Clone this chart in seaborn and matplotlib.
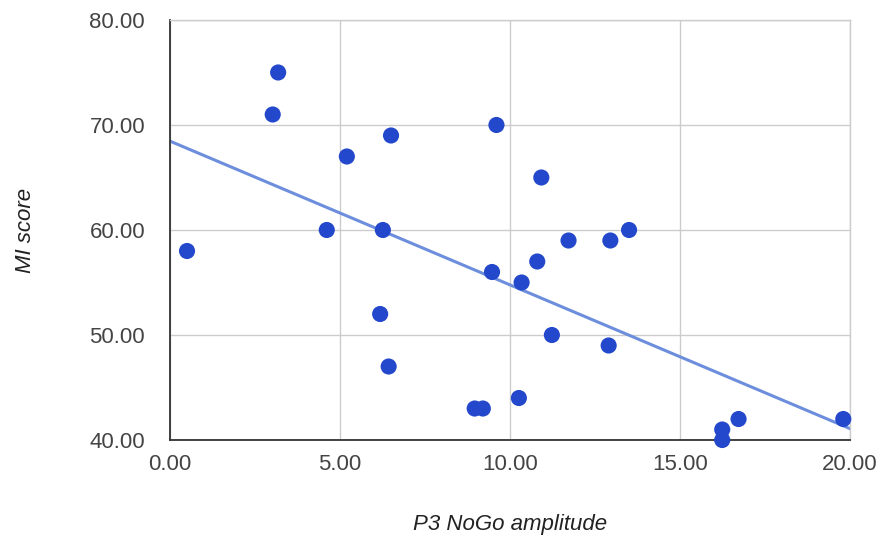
import numpy as np
import pandas as pd
import seaborn as sns
import matplotlib.pyplot as plt

# values
p3_nogo = [0.5, 3.02, 3.18, 4.61, 5.2, 6.18, 6.26, 6.5, 6.43, 8.96, 9.2, 9.47,
           9.6, 10.26, 10.34, 10.8, 10.92, 11.23, 11.72, 12.9, 12.95, 13.5,
           16.24, 16.24, 16.72, 19.8]
mi_score = [58, 71, 75, 60, 67, 52, 60, 69, 47, 43, 43, 56,
            70, 44, 55, 57, 65, 50, 59, 49, 59, 60,
            41, 40, 42, 42]
x_ticks = [0, 5, 10, 15, 20]
y_ticks = [40, 50, 60, 70, 80]

df = pd.DataFrame({"P3 NoGo amplitude": p3_nogo, "MI score": mi_score})

sns.set_style("white")
plt.rcParams['font.family'] = ['Liberation Sans', 'DejaVu Sans']

fig = plt.figure(figsize=(8.8, 5.37), dpi=100)
ax = fig.add_axes([0.1932, 0.1806, 0.7728, 0.7822])
ax.set_xlim(0, 20)
ax.set_ylim(40, 80)

# trendline over the whole axis
sns.regplot(data=df, x="P3 NoGo amplitude", y="MI score", ci=None, truncate=False,
            scatter=False, ax=ax, line_kws={"color": "#6d8edd", "lw": 2.2, "zorder": 2})
sns.scatterplot(data=df, x="P3 NoGo amplitude", y="MI score", ax=ax, s=135,
                color="#2448cc", edgecolor="none", zorder=3, clip_on=False)

ax.set_xlim(0, 20)
ax.set_ylim(40, 80)
ax.set_xticks(x_ticks)
ax.set_yticks(y_ticks)
ax.set_xticklabels([f"{v:.2f}" for v in x_ticks])
ax.set_yticklabels([f"{v:.2f}" for v in y_ticks])
ax.grid(True, color="#cccccc", lw=1)
ax.set_axisbelow(True)
for side in ["top", "right"]:
    ax.spines[side].set_color("#cccccc")
    ax.spines[side].set_linewidth(1)
for side in ["left", "bottom"]:
    ax.spines[side].set_color("#333333")
    ax.spines[side].set_linewidth(1.3)
ax.tick_params(length=0, labelsize=16, labelcolor="#444444")
ax.tick_params(axis="x", pad=10)
ax.tick_params(axis="y", pad=18)

ax.set_xlabel("P3 NoGo amplitude", fontsize=16, style="italic", color="#222222")
ax.set_ylabel("MI score", fontsize=16, style="italic", color="#222222")
ax.xaxis.set_label_coords(0.5, -0.202)
ax.yaxis.set_label_coords(-0.213, 0.5)
ax.xaxis.label.set_va("center")
ax.yaxis.label.set_va("center")

fig.savefig("out.png", dpi=100)
